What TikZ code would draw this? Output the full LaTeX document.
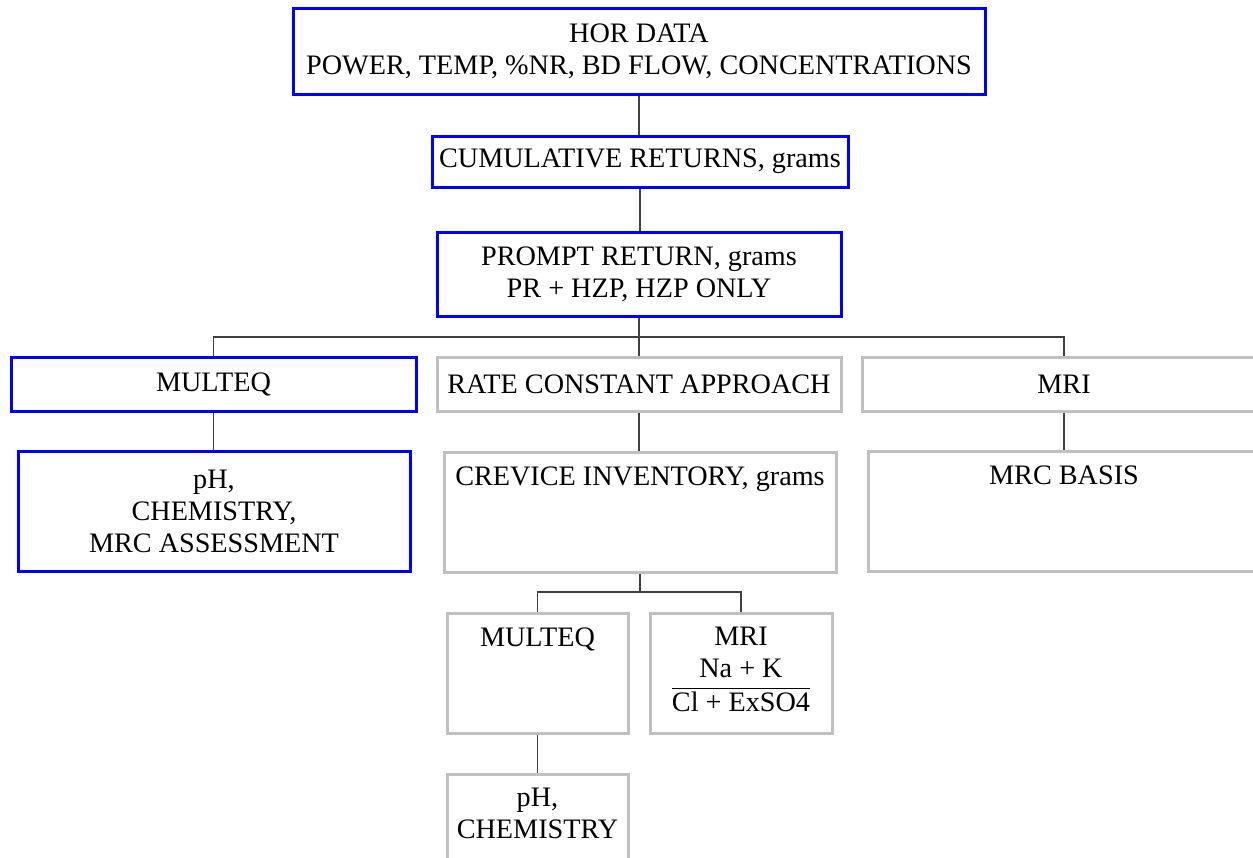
\documentclass[tikz,border=0pt]{standalone}
\usepackage{fontspec}
\setmainfont{Liberation Serif}
\definecolor{boxgrey}{RGB}{192,192,192}
\definecolor{linegrey}{RGB}{64,64,64}
\setlength{\arrayrulewidth}{0.75pt}

\begin{document}
\begin{tikzpicture}[x=0.5pt, y=-0.5pt,
    every node/.style={font=\fontsize{14.1}{16}\selectfont},
    bluebox/.style={draw=blue, line width=1.5pt, inner sep=0pt, align=center},
    greybox/.style={draw=boxgrey, line width=1.5pt, inner sep=0pt, align=center},
    toptext/.style={anchor=north, inner sep=0pt, align=center, yshift=-7.8pt},
    conn/.style={draw=linegrey, line width=0.6pt}]
    \useasboundingbox [fill=white] (0, 0) rectangle (1253, 857);

    % Data boxes at the top
    \node [bluebox, minimum width=346pt, minimum height=43pt] (hor) at (639, 51)
          {HOR DATA\\POWER, TEMP, \%NR, BD FLOW, CONCENTRATIONS};
    \node [bluebox, minimum width=208pt, minimum height=25.5pt] (cum) at (640, 161.5)
          {CUMULATIVE RETURNS, grams};
    \node [bluebox, minimum width=202pt, minimum height=42pt] (prompt) at (639, 274)
          {PROMPT RETURN, grams\\PR + HZP, HZP ONLY};

    % Three approaches
    \node [bluebox, minimum width=202.5pt, minimum height=27pt] (multeq) at (213.5, 384)
          {MULTEQ};
    \node [greybox, minimum width=202pt, minimum height=27pt] (rate) at (639, 384)
          {RATE CONSTANT APPROACH};
    \node [greybox, minimum width=202pt, minimum height=27pt] (mri) at (1064, 384)
          {MRI};

    % Results of each approach
    \node [bluebox, minimum width=196pt, minimum height=60pt] (ph) at (214, 511)
          {pH,\\CHEMISTRY,\\MRC ASSESSMENT};
    \node [greybox, minimum width=196pt, minimum height=60pt,
           label={[toptext]north:CREVICE INVENTORY, grams}] (crev) at (640, 512) {};
    \node [greybox, minimum width=196pt, minimum height=60pt,
           label={[toptext]north:MRC BASIS}] (mrc) at (1064, 511) {};

    % Crevice inventory branches
    \node [greybox, minimum width=90.5pt, minimum height=60pt,
           label={[toptext]north:MULTEQ}] (multeqb) at (537.5, 673) {};
    \node [greybox, minimum width=91pt, minimum height=60pt,
           label={[toptext]north:{MRI\\\begin{tabular}[t]{@{}c@{}}Na + K\\\hline Cl + ExSO4\end{tabular}}}]
          (mrib) at (741, 673) {};
    \node [greybox, minimum width=90.5pt, minimum height=60pt,
           label={[toptext]north:{pH,\\CHEMISTRY}}] (phb) at (537.5, 834) {};

    % Connections
    \coordinate (bus1) at (639, 337);
    \coordinate (bus2) at (639, 592);
    \draw [conn] (hor.south) -- (hor.south |- cum.north);
    \draw [conn] (cum.south) -- (cum.south |- prompt.north);
    \draw [conn] (prompt.south) -- (prompt.south |- rate.north);
    \draw [conn] (multeq.north) |- (bus1) -| (mri.north);
    \draw [conn] (multeq.south) -- (multeq.south |- ph.north);
    \draw [conn] (rate.south) -- (rate.south |- crev.north);
    \draw [conn] (mri.south) -- (mri.south |- mrc.north);
    \draw [conn] (crev.south) -- (crev.south |- bus2);
    \draw [conn] (multeqb.north) |- (bus2) -| (mrib.north);
    \draw [conn] (multeqb.south) -- (multeqb.south |- phb.north);

\end{tikzpicture}
\end{document}
